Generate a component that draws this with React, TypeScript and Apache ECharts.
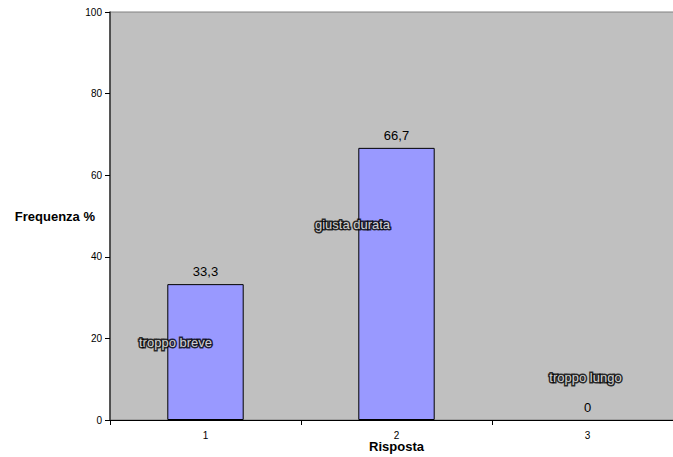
import React, { useEffect, useRef } from "react";
import * as echarts from "echarts";

const categories = ["1", "2", "3"];
const values = [33.3, 66.7, 0];
const answerNames = ["troppo breve", "giusta durata", "troppo lungo"];
const answerLabelLevels = [19, 48, 10.3];
const yTicks = [0, 20, 40, 60, 80, 100];

export default function App() {
  const ref = useRef<HTMLDivElement>(null);
  useEffect(() => {
    if (!ref.current) return;
    const chart = echarts.init(ref.current, null, { renderer: "svg" });
    const labelOffsets = [[-30, 0], [-44, 0], [-2, 0]];
    chart.setOption({
      animation: false,
      textStyle: { fontFamily: "Liberation Sans, Arial, sans-serif" },
      grid: {
        left: 110,
        top: 12,
        height: 408,
        width: 573,
        outerBoundsMode: "none",
        containLabel: false,
        show: true,
        backgroundColor: "#C0C0C0",
        borderColor: "#808080",
        borderWidth: 1,
      },
      xAxis: {
        type: "category",
        data: categories,
        boundaryGap: true,
        name: "Risposta",
        nameLocation: "middle",
        nameGap: 20,
        nameMoveOverlap: false,
        nameTextStyle: { fontWeight: "bold", fontSize: 13, color: "#000" },
        axisLine: { lineStyle: { color: "#000", width: 1 } },
        axisTick: { show: true, length: 5, lineStyle: { color: "#000" } },
        axisLabel: { fontSize: 10, color: "#000", margin: 10 },
        splitLine: { show: false },
      },
      yAxis: {
        type: "value",
        min: yTicks[0],
        max: yTicks[yTicks.length - 1],
        interval: 20,
        name: "Frequenza %",
        nameLocation: "middle",
        nameRotate: 0,
        nameGap: 15,
        nameMoveOverlap: false,
        nameTextStyle: { fontWeight: "bold", fontSize: 13, color: "#000", align: "right" },
        axisLine: { show: true, lineStyle: { color: "#333", width: 1.5 } },
        axisTick: { show: true, length: 5, lineStyle: { color: "#000" } },
        axisLabel: { fontSize: 10, color: "#000", margin: 8 },
        splitLine: { show: false },
      },
      series: [
        {
          type: "bar",
          data: values.map((v) => ({
            value: v,
            itemStyle: v === 0 ? { borderWidth: 0, opacity: 0 } : undefined,
            label: v === 0 ? { opacity: 1 } : undefined,
          })),
          barWidth: "40%",
          itemStyle: { color: "#9999FF", borderColor: "#000", borderWidth: 1 },
          label: {
            show: true,
            position: "top",
            distance: 6,
            fontSize: 13,
            color: "#000",
            formatter: (p: any) => String(p.value).replace(".", ","),
          },
        },
        {
          type: "scatter",
          symbolSize: 0,
          data: answerLabelLevels.map((v, i) => ({
            value: [categories[i], v],
            label: { offset: labelOffsets[i] },
          })),
          label: {
            show: true,
            position: "inside",
            fontSize: 13,
            color: "#fff",
            textBorderColor: "#000",
            textBorderWidth: 3,
            formatter: (p: any) => answerNames[p.dataIndex],
          },
          silent: true,
        },
      ],
    });
    return () => chart.dispose();
  }, []);
  return (
    <div
      style={{ position: "fixed", left: 0, top: 0, width: 673, height: 457, overflow: "hidden", background: "#fff" }}
    >
      <div ref={ref} style={{ width: 673, height: 457 }} />
    </div>
  );
}
